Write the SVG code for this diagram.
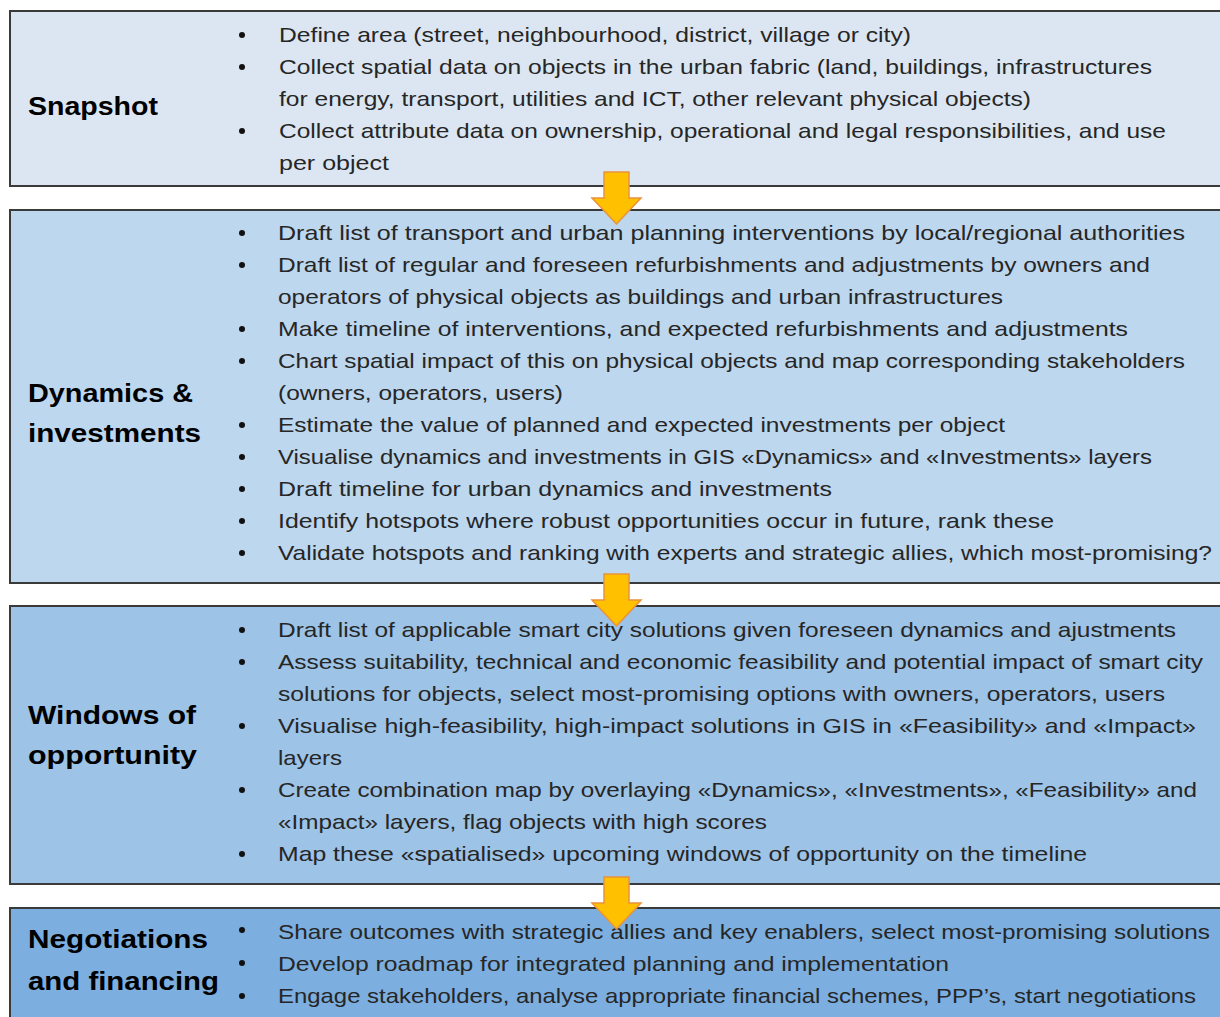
<svg xmlns="http://www.w3.org/2000/svg" width="1220" height="1017" viewBox="0 0 1220 1017">
  <style>
    .box { stroke: #3a3a3a; stroke-width: 2; }
    .b1 { fill: #dce6f2; }
    .b2 { fill: #bdd7ee; }
    .b3 { fill: #9dc3e6; }
    .b4 { fill: #7cafe0; }
    .title { font-family: "Liberation Sans", Arial, sans-serif; font-weight: bold; font-size: 25px; fill: #000; }
    .item { font-family: "Liberation Sans", Arial, sans-serif; font-size: 21px; fill: #262626; }
    .dot { fill: #111; }
    .arrow { fill: #ffc000; stroke: #e9923a; stroke-width: 1.5; stroke-linejoin: miter; }
  </style>
  <defs>
    <!-- down block arrow, origin at top-left of shaft -->
    <path id="down" d="M0 0 H25 V26 H37 L12.5 52 L-12 26 H0 Z"/>
  </defs>
  <rect width="1220" height="1017" fill="#fff"/>

  <!-- Stage 1 -->
  <g id="snapshot">
    <rect class="box b1" x="10" y="11" width="1215" height="175"/>
    <text class="title" x="28" y="115" textLength="130" lengthAdjust="spacingAndGlyphs">Snapshot</text>
    <g class="dot">
      <circle cx="242" cy="35" r="3"/><circle cx="242" cy="67" r="3"/><circle cx="242" cy="131" r="3"/>
    </g>
    <g class="item">
      <text x="279" y="42" textLength="632" lengthAdjust="spacingAndGlyphs">Define area (street, neighbourhood, district, village or city)</text>
      <text x="279" y="74" textLength="873" lengthAdjust="spacingAndGlyphs">Collect spatial data on objects in the urban fabric (land, buildings, infrastructures</text>
      <text x="279" y="106" textLength="752" lengthAdjust="spacingAndGlyphs">for energy, transport, utilities and ICT, other relevant physical objects)</text>
      <text x="279" y="138" textLength="887" lengthAdjust="spacingAndGlyphs">Collect attribute data on ownership, operational and legal responsibilities, and use</text>
      <text x="279" y="170" textLength="110" lengthAdjust="spacingAndGlyphs">per object</text>
    </g>
  </g>

  <!-- Stage 2 -->
  <g id="dynamics">
    <rect class="box b2" x="10" y="210" width="1215" height="373"/>
    <text class="title" x="28" y="402" textLength="165" lengthAdjust="spacingAndGlyphs">Dynamics &amp;</text>
    <text class="title" x="28" y="442" textLength="173" lengthAdjust="spacingAndGlyphs">investments</text>
    <g class="dot">
      <circle cx="242" cy="233" r="3"/><circle cx="242" cy="265" r="3"/><circle cx="242" cy="329" r="3"/>
      <circle cx="242" cy="361" r="3"/><circle cx="242" cy="425" r="3"/><circle cx="242" cy="457" r="3"/>
      <circle cx="242" cy="489" r="3"/><circle cx="242" cy="521" r="3"/><circle cx="242" cy="553" r="3"/>
    </g>
    <g class="item">
      <text x="278" y="240" textLength="907" lengthAdjust="spacingAndGlyphs">Draft list of transport and urban planning interventions  by local/regional authorities</text>
      <text x="278" y="272" textLength="872" lengthAdjust="spacingAndGlyphs">Draft list of regular and foreseen refurbishments and adjustments by owners and</text>
      <text x="278" y="304" textLength="725" lengthAdjust="spacingAndGlyphs">operators of physical objects as buildings and urban infrastructures</text>
      <text x="278" y="336" textLength="850" lengthAdjust="spacingAndGlyphs">Make timeline of interventions, and expected refurbishments and adjustments</text>
      <text x="278" y="368" textLength="907" lengthAdjust="spacingAndGlyphs">Chart spatial impact of this on physical objects and map corresponding stakeholders</text>
      <text x="278" y="400" textLength="285" lengthAdjust="spacingAndGlyphs">(owners, operators, users)</text>
      <text x="278" y="432" textLength="727" lengthAdjust="spacingAndGlyphs">Estimate the value of planned and expected investments per object</text>
      <text x="278" y="464" textLength="874" lengthAdjust="spacingAndGlyphs">Visualise dynamics and investments in GIS «Dynamics» and «Investments» layers</text>
      <text x="278" y="496" textLength="554" lengthAdjust="spacingAndGlyphs">Draft timeline for urban dynamics and  investments</text>
      <text x="278" y="528" textLength="776" lengthAdjust="spacingAndGlyphs">Identify hotspots where robust opportunities occur in future, rank these</text>
      <text x="278" y="560" textLength="934" lengthAdjust="spacingAndGlyphs">Validate hotspots and ranking with experts and strategic allies,  which most-promising?</text>
    </g>
  </g>

  <!-- Stage 3 -->
  <g id="windows">
    <rect class="box b3" x="10" y="606" width="1215" height="278"/>
    <text class="title" x="28" y="724" textLength="168" lengthAdjust="spacingAndGlyphs">Windows of</text>
    <text class="title" x="28" y="764" textLength="169" lengthAdjust="spacingAndGlyphs">opportunity</text>
    <g class="dot">
      <circle cx="242" cy="630" r="3"/><circle cx="242" cy="662" r="3"/><circle cx="242" cy="726" r="3"/>
      <circle cx="242" cy="790" r="3"/><circle cx="242" cy="854" r="3"/>
    </g>
    <g class="item">
      <text x="278" y="637" textLength="898" lengthAdjust="spacingAndGlyphs">Draft list of applicable smart city  solutions given foreseen dynamics and ajustments</text>
      <text x="278" y="669" textLength="925" lengthAdjust="spacingAndGlyphs">Assess suitability, technical and economic feasibility and potential impact of smart city</text>
      <text x="278" y="701" textLength="887" lengthAdjust="spacingAndGlyphs">solutions for objects, select most-promising options with owners, operators, users</text>
      <text x="278" y="733" textLength="918" lengthAdjust="spacingAndGlyphs">Visualise high-feasibility, high-impact solutions in GIS in «Feasibility» and «Impact»</text>
      <text x="278" y="765" textLength="64" lengthAdjust="spacingAndGlyphs">layers</text>
      <text x="278" y="797" textLength="919" lengthAdjust="spacingAndGlyphs">Create combination map by overlaying «Dynamics», «Investments», «Feasibility» and</text>
      <text x="278" y="829" textLength="489" lengthAdjust="spacingAndGlyphs">«Impact» layers, flag objects with high scores</text>
      <text x="278" y="861" textLength="809" lengthAdjust="spacingAndGlyphs">Map these «spatialised» upcoming windows of opportunity on the timeline</text>
    </g>
  </g>

  <!-- Stage 4 -->
  <g id="negotiations">
    <rect class="box b4" x="10" y="908" width="1215" height="120"/>
    <text class="title" x="28" y="948" textLength="180" lengthAdjust="spacingAndGlyphs">Negotiations</text>
    <text class="title" x="28" y="990" textLength="191" lengthAdjust="spacingAndGlyphs">and financing</text>
    <g class="dot">
      <circle cx="242" cy="930" r="3"/><circle cx="242" cy="963" r="3"/><circle cx="242" cy="996" r="3"/>
    </g>
    <g class="item">
      <text x="278" y="939" textLength="932" lengthAdjust="spacingAndGlyphs">Share outcomes with strategic allies and key enablers, select most-promising solutions</text>
      <text x="278" y="971" textLength="671" lengthAdjust="spacingAndGlyphs">Develop roadmap for integrated planning and implementation</text>
      <text x="278" y="1003" textLength="918" lengthAdjust="spacingAndGlyphs">Engage stakeholders, analyse appropriate financial schemes, PPP’s, start negotiations</text>
    </g>
  </g>

  <!-- Flow arrows between stages -->
  <g id="connectors">
    <use href="#down" class="arrow" x="604" y="172"/>
    <use href="#down" class="arrow" x="604" y="574" transform="translate(0 0)"/>
    <use href="#down" class="arrow" x="604" y="877"/>
  </g>
</svg>
